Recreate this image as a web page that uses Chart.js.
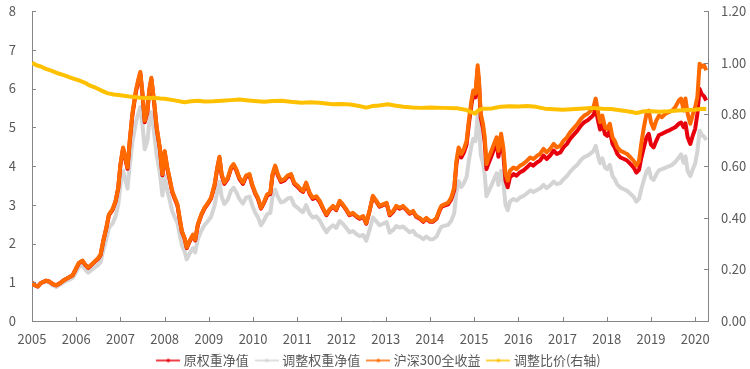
<!DOCTYPE html>
<html>
<head>
<meta charset="utf-8">
<script src="https://cdn.jsdelivr.net/npm/chart.js@4"></script>
<style>
  html, body { margin: 0; padding: 0; background: #fff; }
</style>
</head>
<body>
<canvas id="chart" width="750" height="369"></canvas>
<script>
// axis position of each sample (years, as drawn on the x axis)
const times = [
  2005.00,2005.05,2005.13,2005.20,2005.32,2005.39,2005.47,2005.55,2005.64,2005.73,2005.83,2005.92,
  2006.00,2006.06,2006.14,2006.21,2006.27,2006.34,2006.42,2006.49,2006.55,2006.61,2006.68,2006.74,2006.82,2006.89,2006.95,
  2007.00,2007.06,2007.11,2007.16,2007.21,2007.27,2007.35,2007.40,2007.45,2007.50,2007.55,2007.61,2007.65,2007.70,2007.76,2007.82,2007.89,2007.95,
  2008.00,2008.06,2008.11,2008.17,2008.23,2008.29,2008.34,2008.39,2008.45,2008.50,2008.56,2008.64,2008.69,2008.75,2008.83,2008.90,2008.98,
  2009.05,2009.13,2009.19,2009.24,2009.29,2009.35,2009.43,2009.50,2009.56,2009.62,2009.69,2009.77,2009.84,2009.92,2009.98,
  2010.05,2010.11,2010.18,2010.24,2010.32,2010.39,2010.44,2010.50,2010.56,2010.63,2010.71,2010.78,2010.86,2010.93,
  2011.01,2011.08,2011.13,2011.20,2011.28,2011.35,2011.43,2011.51,2011.58,2011.66,2011.73,2011.81,2011.88,2011.96,
  2012.03,2012.11,2012.18,2012.26,2012.34,2012.41,2012.49,2012.56,2012.64,2012.71,2012.79,2012.86,2012.94,
  2013.02,2013.09,2013.17,2013.24,2013.32,2013.39,2013.47,2013.54,2013.62,2013.69,2013.77,2013.85,2013.92,
  2014.00,2014.07,2014.15,2014.22,2014.26,2014.33,2014.41,2014.48,2014.55,2014.60,2014.65,2014.71,2014.77,2014.83,2014.88,2014.94,2014.98,
  2015.03,2015.08,2015.11,2015.15,2015.20,2015.24,2015.28,2015.33,2015.39,2015.45,2015.51,2015.55,2015.61,2015.66,2015.71,2015.76,2015.81,2015.89,2015.96,
  2016.04,2016.11,2016.19,2016.27,2016.34,2016.42,2016.49,2016.57,2016.64,2016.72,2016.80,2016.87,2016.95,
  2017.02,2017.10,2017.17,2017.27,2017.34,2017.42,2017.49,2017.57,2017.64,2017.70,2017.75,2017.81,2017.85,2017.90,2017.96,
  2018.01,2018.07,2018.13,2018.18,2018.24,2018.31,2018.39,2018.46,2018.54,2018.61,2018.67,2018.73,2018.78,2018.84,2018.90,2018.95,
  2019.00,2019.06,2019.12,2019.18,2019.25,2019.33,2019.40,2019.48,2019.55,2019.63,2019.68,2019.74,2019.78,2019.83,2019.89,2019.95,
  2020.00,2020.05,2020.10,2020.15,2020.20,2020.25
];

// 原权重净值
const origNav = [
  1.00,0.93,0.89,0.98,1.04,1.02,0.95,0.92,0.98,1.06,1.12,1.18,
  1.36,1.49,1.55,1.44,1.37,1.44,1.53,1.60,1.70,2.05,2.39,2.73,2.86,3.08,3.42,
  4.02,4.45,4.19,3.93,4.62,5.31,5.91,6.17,6.39,5.83,5.13,5.39,5.91,6.24,5.65,4.97,4.45,3.76,
  4.36,3.93,3.67,3.33,3.15,2.98,2.63,2.30,2.13,1.88,2.04,2.21,2.08,2.47,2.73,2.90,3.03,
  3.16,3.50,3.93,4.21,3.76,3.54,3.67,3.93,4.02,3.89,3.67,3.54,3.72,3.76,3.50,
  3.28,3.15,2.90,3.03,3.24,3.28,3.76,3.98,3.76,3.59,3.63,3.72,3.76,3.54,
  3.46,3.37,3.33,3.54,3.28,3.15,3.19,3.07,2.90,2.73,2.86,2.95,2.86,3.08,
  2.99,2.86,2.73,2.77,2.69,2.64,2.69,2.51,2.86,3.21,3.08,2.95,2.99,
  3.03,2.73,2.82,2.95,2.90,2.95,2.86,2.77,2.82,2.69,2.64,2.56,2.64,
  2.56,2.56,2.64,2.85,2.94,2.98,3.01,3.13,3.38,4.05,4.40,4.22,4.35,4.56,5.07,5.59,5.85,
  5.77,6.50,6.11,5.24,4.97,4.61,3.92,4.08,4.25,4.43,4.60,4.24,4.68,4.32,3.62,3.45,3.71,3.79,3.75,
  3.84,3.88,3.96,4.05,4.01,4.09,4.14,4.27,4.18,4.27,4.40,4.31,4.35,
  4.48,4.57,4.70,4.83,4.92,5.05,5.13,5.18,5.25,5.32,5.48,5.13,4.94,5.10,4.82,
  4.78,4.91,4.57,4.48,4.31,4.22,4.18,4.14,4.05,3.96,3.83,3.90,4.20,4.48,4.74,4.83,
  4.55,4.48,4.65,4.80,4.83,4.88,4.91,4.96,5.00,5.09,5.12,5.00,5.10,4.74,4.57,4.80,
  4.96,5.35,5.99,5.85,5.80,5.69
];

// 调整权重净值
const adjNav = [
  1.00,0.93,0.88,0.97,1.02,0.99,0.92,0.88,0.94,1.01,1.06,1.11,
  1.27,1.39,1.44,1.32,1.25,1.31,1.38,1.44,1.52,1.82,2.11,2.41,2.51,2.70,2.99,
  3.51,3.88,3.65,3.42,4.01,4.61,5.12,5.34,5.52,5.04,4.43,4.65,5.10,5.39,4.88,4.28,3.83,3.24,
  3.75,3.37,3.14,2.84,2.68,2.53,2.23,1.95,1.80,1.59,1.73,1.88,1.77,2.11,2.33,2.47,2.58,
  2.69,2.98,3.35,3.59,3.21,3.02,3.13,3.36,3.44,3.33,3.15,3.03,3.18,3.21,2.99,
  2.79,2.68,2.47,2.58,2.76,2.79,3.20,3.39,3.21,3.06,3.09,3.16,3.18,2.99,
  2.92,2.84,2.81,2.99,2.77,2.67,2.70,2.59,2.44,2.29,2.40,2.47,2.40,2.58,
  2.51,2.40,2.29,2.32,2.24,2.19,2.22,2.07,2.37,2.67,2.57,2.47,2.51,
  2.55,2.28,2.35,2.45,2.41,2.44,2.36,2.29,2.33,2.22,2.18,2.11,2.18,
  2.11,2.11,2.18,2.35,2.43,2.46,2.48,2.58,2.78,3.33,3.61,3.46,3.56,3.72,4.13,4.53,4.70,
  4.64,5.30,5.02,4.30,4.08,3.78,3.22,3.35,3.50,3.66,3.81,3.51,3.88,3.59,3.00,2.86,3.08,3.15,3.11,
  3.19,3.22,3.29,3.37,3.33,3.38,3.42,3.51,3.43,3.50,3.60,3.53,3.56,
  3.66,3.74,3.85,3.97,4.04,4.16,4.23,4.27,4.33,4.39,4.52,4.23,4.07,4.20,3.96,
  3.92,4.03,3.74,3.66,3.52,3.44,3.40,3.36,3.28,3.20,3.08,3.15,3.40,3.64,3.86,3.94,
  3.70,3.64,3.78,3.89,3.92,3.96,3.99,4.03,4.10,4.22,4.30,4.08,4.25,3.87,3.74,3.93,
  4.06,4.38,4.91,4.80,4.76,4.67
];

// 沪深300全收益
const csi300 = [
  1.00,0.93,0.89,0.98,1.04,1.02,0.95,0.92,0.98,1.06,1.12,1.18,
  1.37,1.50,1.56,1.45,1.38,1.45,1.54,1.61,1.71,2.06,2.40,2.75,2.88,3.10,3.44,
  4.05,4.48,4.22,3.96,4.65,5.35,5.95,6.21,6.43,5.87,5.17,5.43,5.95,6.28,5.69,5.00,4.48,3.79,
  4.39,3.96,3.70,3.36,3.18,3.01,2.66,2.32,2.15,1.90,2.06,2.23,2.10,2.49,2.75,2.92,3.05,
  3.18,3.53,3.96,4.24,3.79,3.57,3.70,3.96,4.05,3.92,3.70,3.57,3.75,3.79,3.53,
  3.31,3.18,2.92,3.05,3.27,3.31,3.79,4.01,3.79,3.62,3.66,3.75,3.79,3.57,
  3.49,3.40,3.36,3.57,3.31,3.18,3.22,3.10,2.92,2.75,2.88,2.97,2.88,3.10,
  3.01,2.88,2.75,2.79,2.71,2.66,2.71,2.53,2.88,3.23,3.10,2.97,3.01,
  3.05,2.75,2.84,2.97,2.92,2.97,2.88,2.79,2.84,2.71,2.66,2.58,2.66,
  2.58,2.58,2.66,2.88,2.97,3.01,3.05,3.18,3.44,4.13,4.48,4.31,4.44,4.65,5.17,5.69,5.95,
  5.87,6.60,6.21,5.35,5.09,4.74,4.05,4.22,4.39,4.57,4.74,4.39,4.83,4.48,3.79,3.62,3.88,3.96,3.92,
  4.01,4.05,4.13,4.22,4.18,4.26,4.31,4.44,4.35,4.44,4.57,4.48,4.52,
  4.65,4.74,4.87,5.00,5.09,5.22,5.30,5.35,5.43,5.52,5.74,5.35,5.13,5.30,5.00,
  4.96,5.09,4.74,4.65,4.48,4.39,4.35,4.31,4.22,4.13,4.01,4.13,4.57,5.00,5.35,5.43,
  5.13,4.96,5.17,5.30,5.26,5.35,5.39,5.43,5.52,5.69,5.74,5.43,5.74,5.35,5.09,5.35,
  5.52,5.78,6.64,6.56,6.60,6.47
];

// 调整比价(右轴)
const ratioTimes = [
  2005.00,2005.10,2005.20,2005.30,2005.45,2005.60,2005.75,2005.90,2006.05,2006.20,2006.30,2006.45,2006.60,2006.70,2006.85,
  2007.00,2007.20,2007.45,2007.60,2007.75,2007.90,2008.00,2008.20,2008.45,2008.60,2008.75,2008.90,2009.10,2009.30,2009.50,
  2009.70,2009.90,2010.10,2010.25,2010.45,2010.65,2010.85,2011.10,2011.30,2011.50,2011.80,2012.00,2012.20,2012.40,2012.56,
  2012.70,2012.85,2013.05,2013.20,2013.40,2013.60,2013.80,2014.00,2014.30,2014.60,2014.80,2014.95,2015.02,2015.10,2015.20,
  2015.40,2015.60,2015.80,2016.00,2016.20,2016.40,2016.60,2016.80,2017.00,2017.20,2017.40,2017.65,2017.90,2018.10,2018.30,
  2018.50,2018.68,2018.85,2019.00,2019.20,2019.40,2019.60,2019.80,2020.00,2020.15,2020.25
];
const ratio = [
  1.000,0.990,0.985,0.977,0.968,0.958,0.950,0.940,0.932,0.922,0.912,0.902,0.890,0.882,0.877,
  0.874,0.869,0.864,0.863,0.864,0.861,0.860,0.855,0.847,0.851,0.853,0.850,0.851,0.853,0.855,
  0.857,0.854,0.851,0.849,0.852,0.853,0.849,0.845,0.847,0.845,0.839,0.840,0.838,0.832,0.826,
  0.832,0.834,0.839,0.834,0.829,0.826,0.825,0.826,0.825,0.824,0.818,0.808,0.803,0.816,0.822,
  0.823,0.829,0.831,0.830,0.832,0.829,0.822,0.820,0.818,0.820,0.822,0.825,0.822,0.821,0.816,
  0.811,0.805,0.812,0.812,0.810,0.812,0.815,0.817,0.818,0.822,0.821
];

const xRange = [2005, 2020.29];

const labelColor = '#595959';
const axisColor = '#868686';
const fontFamily = "'Noto Sans CJK SC', 'Noto Sans', sans-serif";

function toPoints(xs, ys) {
  return xs.map((x, i) => ({x: x, y: ys[i]}));
}

function legendIcon(color) {
  const c = document.createElement('canvas');
  c.width = 24;
  c.height = 8;
  const g = c.getContext('2d');
  g.strokeStyle = color;
  g.lineWidth = 1.5;
  g.beginPath();
  g.moveTo(0, 4);
  g.lineTo(24, 4);
  g.stroke();
  g.fillStyle = color;
  g.beginPath();
  g.arc(12, 4, 1.8, 0, Math.PI * 2);
  g.fill();
  return c;
}

function series(label, color, points, order, axis, width) {
  return {
    label: label,
    data: points,
    borderColor: color,
    backgroundColor: color,
    borderWidth: width,
    borderJoinStyle: 'round',
    pointRadius: 0,
    pointHoverRadius: 0,
    pointStyle: legendIcon(color),
    tension: 0,
    order: order,
    yAxisID: axis
  };
}

const chartTweaks = {
  id: 'chartTweaks',
  afterLayout(chart) {
    // legend sits a bit lower than chart.js puts it, x labels may run into its box
    const lg = chart.legend;
    lg.top += 8;
    lg.bottom += 8;
    lg.left += 5;
    lg.right += 5;
    const x = chart.scales.x;
    x.bottom += 20;
    x.height += 20;
  },
  // short tick marks pointing into the plot, like the original
  afterDraw(chart) {
    const {ctx} = chart;
    const {x, y, y2} = chart.scales;
    ctx.save();
    ctx.strokeStyle = axisColor;
    ctx.lineWidth = 1;
    ctx.beginPath();
    x.ticks.forEach(t => {
      const p = Math.round(x.getPixelForValue(t.value)) + 0.5;
      ctx.moveTo(p, x.top);
      ctx.lineTo(p, x.top - 4);
    });
    y.ticks.forEach(t => {
      const p = Math.round(y.getPixelForValue(t.value)) + 0.5;
      ctx.moveTo(y.right, p);
      ctx.lineTo(y.right + 4, p);
    });
    y2.ticks.forEach(t => {
      const p = Math.round(y2.getPixelForValue(t.value)) + 0.5;
      ctx.moveTo(y2.left - 4, p);
      ctx.lineTo(y2.left, p);
    });
    ctx.stroke();
    ctx.restore();
  }
};

const tickFont = {family: fontFamily, size: 13};

new Chart(document.getElementById('chart'), {
  type: 'line',
  data: {
    datasets: [
      series('原权重净值', '#E8000C', toPoints(times, origNav), 2, 'y', 4),
      series('调整权重净值', '#D4D4D4', toPoints(times, adjNav), 3, 'y', 4),
      series('沪深300全收益', '#FF6A00', toPoints(times, csi300), 1, 'y', 4),
      series('调整比价(右轴)', '#FFC000', toPoints(ratioTimes, ratio), 0, 'y2', 4)
    ]
  },
  options: {
    responsive: false,
    animation: false,
    devicePixelRatio: 1,
    layout: {padding: {top: 11, left: 0, right: 0, bottom: 0}},
    plugins: {
      tooltip: {enabled: false},
      legend: {
        position: 'bottom',
        labels: {
          usePointStyle: true,
          pointStyleWidth: 18,
          padding: 9,
          color: labelColor,
          font: {family: fontFamily, size: 13},
          sort: (a, b) => a.datasetIndex - b.datasetIndex
        }
      }
    },
    scales: {
      x: {
        type: 'linear',
        min: xRange[0],
        max: xRange[1],
        grid: {display: false, drawTicks: false},
        border: {display: true, color: axisColor, width: 1},
        ticks: {
          stepSize: 1,
          includeBounds: false,
          autoSkip: false,
          maxRotation: 0,
          padding: 10,
          color: labelColor,
          font: tickFont,
          callback: v => String(v)
        },
        afterFit: s => { s.height = 16; }
      },
      y: {
        position: 'left',
        min: 0,
        max: 8,
        grid: {display: false, drawTicks: false},
        border: {display: true, color: axisColor, width: 1},
        ticks: {stepSize: 1, padding: 16, color: labelColor, font: tickFont},
        afterFit: s => { s.width = 32; s.paddingTop = 0; s.paddingBottom = 0; }
      },
      y2: {
        position: 'right',
        min: 0,
        max: 1.2,
        grid: {display: false, drawTicks: false},
        border: {display: true, color: axisColor, width: 1},
        ticks: {stepSize: 0.2, padding: 13, color: labelColor, font: tickFont, callback: v => v.toFixed(2)},
        afterFit: s => { s.width = 42; s.paddingTop = 0; s.paddingBottom = 0; }
      }
    }
  },
  plugins: [chartTweaks]
});
</script>
</body>
</html>
